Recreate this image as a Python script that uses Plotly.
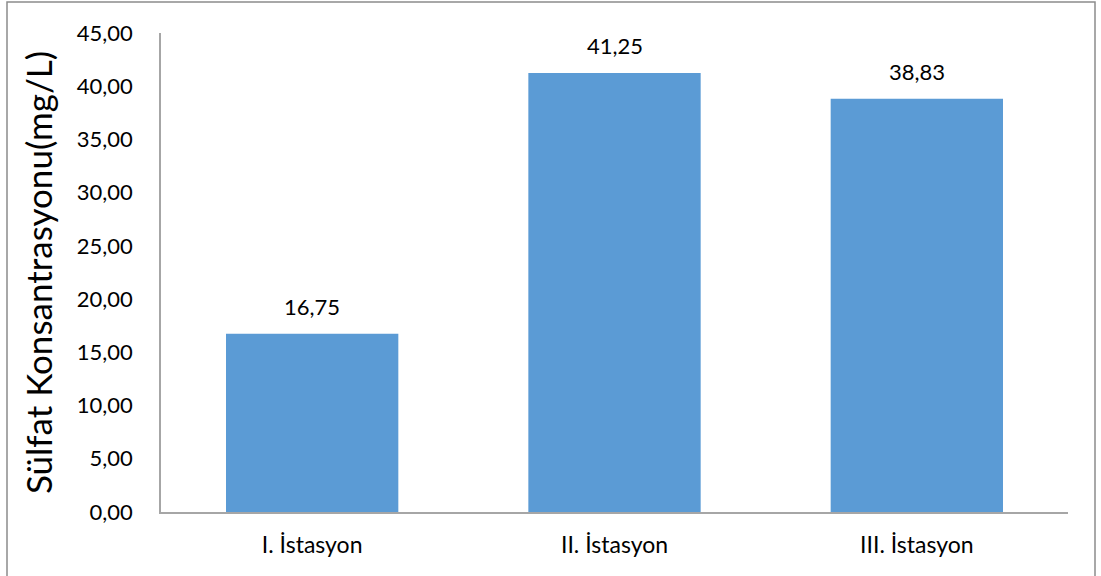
import plotly.graph_objects as go

# Sulfate concentration per sampling station
stations = ["I. İstasyon", "II. İstasyon", "III. İstasyon"]
sulfate = [16.75, 41.25, 38.83]
y_ticks = [0, 5, 10, 15, 20, 25, 30, 35, 40, 45]

W, H = 1101, 576
ml, mr, mt, mb = 161, 33, 33, 64
pw, ph = W - ml - mr, H - mt - mb

font_family = "Lato, 'Open Sans', sans-serif"
bar_color = "#5B9BD5"
axis_color = "#A6A6A6"

fig = go.Figure()
fig.add_trace(go.Bar(
    x=stations, y=sulfate,
    marker=dict(color=bar_color, line=dict(width=0)),
    width=0.57,
    hoverinfo="skip",
))

# value labels above each bar
for s, v in zip(stations, sulfate):
    fig.add_annotation(
        x=s, y=v, xref="x", yref="y",
        text=f"{v:.2f}".replace(".", ","),
        showarrow=False, yshift=27,
        font=dict(family=font_family, size=22, color="#000000"),
    )

# outer chart frame
fig.add_shape(
    type="rect", xref="paper", yref="paper",
    x0=(7 - ml) / pw, x1=(1095 - ml) / pw,
    y0=-(H - mt + 10 - ph) / ph, y1=1 + (mt - 2) / ph,
    line=dict(color="#8C8C8C", width=1.5), fillcolor="rgba(0,0,0,0)",
    layer="below",
)

fig.update_layout(
    width=W, height=H,
    margin=dict(l=ml, r=mr, t=mt, b=mb),
    paper_bgcolor="white", plot_bgcolor="white",
    separators=",.",
    showlegend=False,
    font=dict(family=font_family, color="#000000"),
    xaxis=dict(
        showline=True, linecolor=axis_color, linewidth=1.5,
        ticks="", showgrid=False, zeroline=False,
        tickfont=dict(size=23),
        ticklabelstandoff=12,
    ),
    yaxis=dict(
        range=[0, 45], tickvals=y_ticks, tickformat=".2f",
        showline=True, linecolor=axis_color, linewidth=1.5,
        ticks="", showgrid=False, zeroline=False,
        tickfont=dict(size=22),
        ticklabelstandoff=22,
        title=dict(text="Sülfat Konsantrasyonu(mg/L)",
                   font=dict(size=35), standoff=14),
    ),
)

fig.write_html("out.html")
